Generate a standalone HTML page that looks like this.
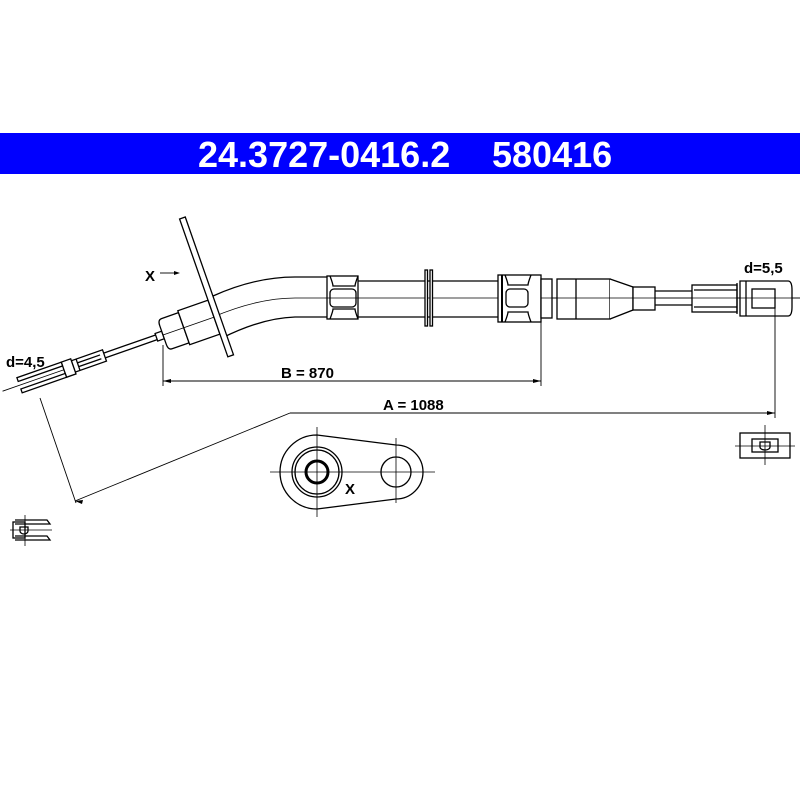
<!DOCTYPE html>
<html><head><meta charset="utf-8"><style>
html,body{margin:0;padding:0;background:#fff;}
svg{display:block;}
text{font-family:"Liberation Sans",Arial,sans-serif;font-weight:bold;fill:#000;}
</style></head><body>
<svg width="800" height="800" viewBox="0 0 800 800" xmlns="http://www.w3.org/2000/svg">
<rect x="0" y="133" width="800" height="41" fill="#0000ff"/>
<text x="198" y="167" font-size="36" style="fill:#fff">24.3727-0416.2</text>
<text x="492" y="167" font-size="36" style="fill:#fff">580416</text>

<g fill="none" stroke="#000" stroke-width="1.3">
<!-- bent tube -->
<path d="M213,296 Q255,277 295,277 L327,277"/>
<path d="M222,338 Q262,318 295,317 L327,317"/>
<path d="M213,317 Q258,298 295,298 L800,298" stroke-width="0.8"/>
<!-- fitting 1 -->
<rect x="327" y="276" width="31" height="43" fill="#fff"/>
<path d="M330,276 q3,8 3,10 h22 q0,-2 3,-10 M330,319 q3,-8 3,-10 h22 q0,2 3,10"/>
<rect x="330" y="289" width="26" height="18" rx="4" fill="#fff"/>
<line x1="327" y1="298" x2="358" y2="298" stroke-width="0.8"/>
<!-- straight tube -->
<line x1="358" y1="281" x2="498" y2="281"/>
<line x1="358" y1="317" x2="498" y2="317"/>
<rect x="425" y="270" width="2.5" height="56" fill="#fff"/>
<rect x="430" y="270" width="2.5" height="56" fill="#fff"/>
<!-- fitting 2 -->
<rect x="498" y="275" width="43" height="47" fill="#fff"/>
<line x1="502" y1="275" x2="502" y2="322" stroke-width="2"/>
<path d="M505,275 q3,8 3,10 h20 q0,-2 3,-10 M505,322 q3,-8 3,-10 h20 q0,2 3,10"/>
<rect x="506" y="289" width="22" height="18" rx="4" fill="#fff"/>
<rect x="541" y="279" width="11" height="39" fill="#fff"/>
<rect x="557" y="279" width="53" height="40" fill="#fff"/>
<line x1="576" y1="279" x2="576" y2="319"/>
<path d="M610,279 L633,287 L633,310 L610,319" fill="#fff"/>
<rect x="633" y="287" width="22" height="23" fill="#fff"/>
<line x1="655" y1="291" x2="692" y2="291"/>
<line x1="655" y1="305" x2="692" y2="305"/>
<rect x="692" y="285" width="45" height="27" fill="#fff"/>
<line x1="694" y1="290" x2="737" y2="290"/><line x1="694" y1="307" x2="737" y2="307"/>
<path d="M740,281 H788 Q792,281 792,290 V307 Q792,316 788,316 H740 Z" fill="#fff"/>
<line x1="737" y1="283" x2="737" y2="314"/>
<line x1="746" y1="281" x2="746" y2="316"/>
<rect x="752" y="289" width="23" height="19" fill="#fff"/>
<line x1="541" y1="298" x2="800" y2="298" stroke-width="0.8"/>

<!-- left assembly -->
<g transform="translate(163,335) rotate(-19.3)">
<line x1="-7" y1="-2.5" x2="-62" y2="-2.5"/>
<line x1="-7" y1="2.5" x2="-62" y2="2.5"/>
<rect x="-95" y="-6" width="33" height="12" fill="#fff"/>
<line x1="-90" y1="-2" x2="-66" y2="-2"/><line x1="-90" y1="2" x2="-66" y2="2"/>
<line x1="-90" y1="-6" x2="-90" y2="6"/>
<rect x="-105" y="-8" width="10" height="16" fill="#fff"/>
<rect x="-152" y="-8" width="47" height="4" fill="#fff"/>
<rect x="-152" y="4" width="47" height="4" fill="#fff"/>
<line x1="-170" y1="0" x2="-105" y2="0" stroke-width="0.8"/>
<rect x="-7" y="-4" width="7" height="8" fill="#fff"/>
<path d="M22,-16 H4 Q0,-16 0,-10 V10 Q0,16 4,16 H22 Z" fill="#fff"/>
<rect x="22" y="-18" width="32" height="36" fill="#fff"/>
<line x1="0" y1="0" x2="58" y2="0" stroke-width="0.8"/>
<rect x="54" y="-104" width="6" height="146" fill="#fff"/>
</g>

<!-- dimensions -->
<g stroke-width="0.9">
<line x1="163" y1="345" x2="163" y2="386"/>
<line x1="541" y1="321" x2="541" y2="386"/>
<line x1="163" y1="381" x2="541" y2="381"/>
<line x1="775" y1="308" x2="775" y2="418"/>
<line x1="290" y1="413" x2="775" y2="413"/>
<line x1="290" y1="413" x2="75" y2="501"/>
<line x1="40" y1="398" x2="76" y2="503"/>
</g>
<path d="M163,381 l8,-2 v4 z M541,381 l-8,-2 v4 z M775,413 l-8,-2 v4 z M75,501 l8,-1 l-1,4 z" fill="#000" stroke="none"/>
<!-- X arrow -->
<line x1="160" y1="273" x2="176" y2="273" stroke-width="0.9"/>
<path d="M180,273 l-6,-2 v4 z" fill="#000" stroke="none"/>

<!-- bracket view X -->
<path d="M317,435 L396,445 A27,27 0 0 1 396,499 L317,509 A37,37 0 0 1 317,435 Z"/>
<circle cx="317" cy="472" r="25"/>
<circle cx="317" cy="472" r="22"/>
<circle cx="317" cy="472" r="11" stroke-width="3"/>
<circle cx="396" cy="472" r="15"/>
<g stroke-width="0.8">
<line x1="270" y1="472" x2="435" y2="472"/>
<line x1="317" y1="427" x2="317" y2="517"/>
<line x1="396" y1="438" x2="396" y2="503"/>
</g>

<!-- right small symbol -->
<rect x="740" y="433" width="50" height="25"/>
<rect x="752" y="439" width="26" height="13"/>
<path d="M760,442 h10 v5 a5,3 0 0 1 -10,0 z"/>
<line x1="765" y1="425" x2="765" y2="465" stroke-width="0.8"/>
<line x1="735" y1="446" x2="795" y2="446" stroke-width="0.8"/>
<!-- left small symbol -->
<rect x="13" y="522" width="12" height="16"/>
<path d="M15,520 H47 L50,524 H15 M15,536 H47 L50,540 H15"/>
<path d="M20,527 h8 v4 a4,3 0 0 1 -8,0 z"/>
<line x1="25" y1="515" x2="25" y2="546" stroke-width="0.8"/>
<line x1="10" y1="530" x2="52" y2="530" stroke-width="0.8"/>
</g>

<text x="145" y="281" font-size="15">X</text>
<text x="281" y="378" font-size="15">B = 870</text>
<text x="383" y="410" font-size="15">A = 1088</text>
<text x="744" y="273" font-size="15">d=5,5</text>
<text x="6" y="367" font-size="15">d=4,5</text>
<text x="345" y="494" font-size="15">X</text>
</svg>
</body></html>
